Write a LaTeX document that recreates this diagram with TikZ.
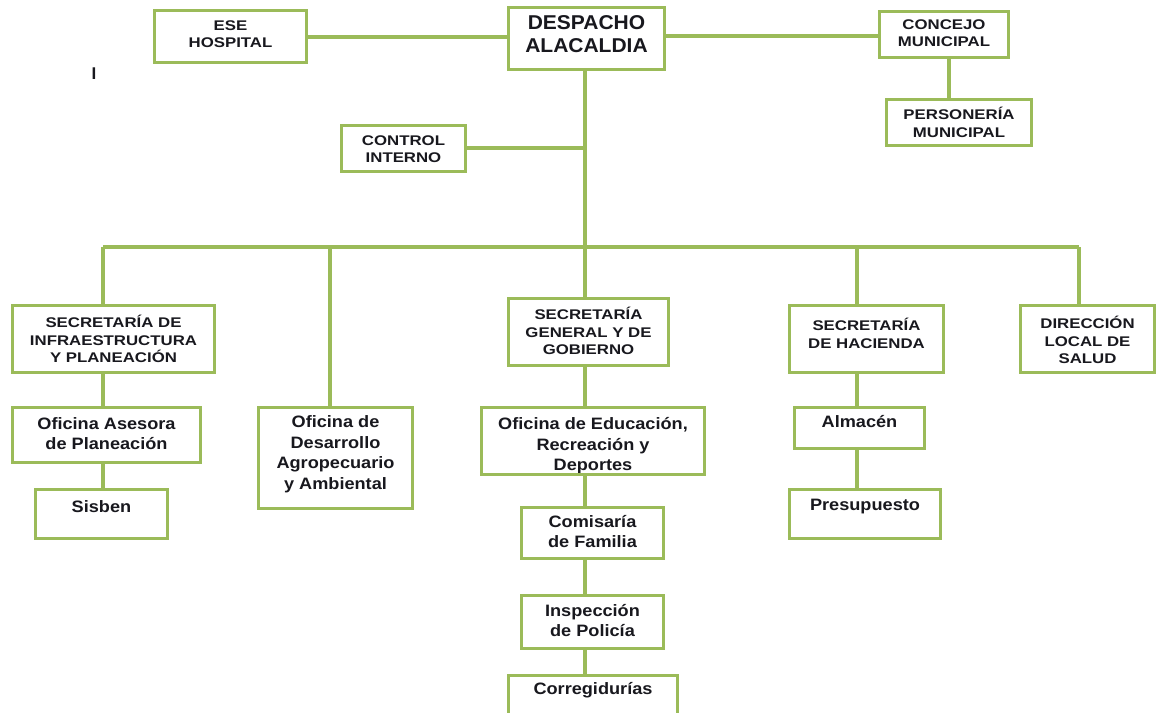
\documentclass[tikz,border=0pt]{standalone}
\usepackage{fontspec}
\setmainfont{Liberation Sans}
\newfontfamily\capsfam[FakeStretch=1.2]{Liberation Sans}
\newfontfamily\lowfam[FakeStretch=1.1]{Liberation Sans}
\newfontfamily\bigfam[FakeStretch=1.05]{Liberation Sans}
\usetikzlibrary{fit}
\definecolor{ogreen}{HTML}{9BBB59}
\definecolor{ink}{HTML}{18181E}
\tikzset{
  box/.style={draw=ogreen, line width=3pt, fill=white, inner sep=0pt},
  conn/.style={draw=ogreen, line width=4.5pt},
  capt/.style={text=ink, font=\capsfam\bfseries\fontsize{14}{17.5}\selectfont, align=center, inner sep=0pt},
  lowt/.style={text=ink, font=\lowfam\bfseries\fontsize{16.5}{20.5}\selectfont, align=center, inner sep=0pt},
  bigt/.style={text=ink, font=\bigfam\bfseries\fontsize{20}{23}\selectfont, align=center, inner sep=0pt},
}
\begin{document}
\begin{tikzpicture}[x=1pt,y=-1pt]
\useasboundingbox (0,0) rectangle (1156,712);
\clip (0,0) rectangle (1156,712);
% bus coordinates
\coordinate (b1) at (103,247);
\coordinate (b2) at (330,247);
\coordinate (b3) at (585,247);
\coordinate (b4) at (857,247);
\coordinate (b5) at (1079,247);
\coordinate (pp) at (949,0);
\path (155,11) coordinate (ese1) (306,62) coordinate (ese2)
      (509,8) coordinate (desp1) (664,69) coordinate (desp2)
      (880,12) coordinate (conc1) (1008,57) coordinate (conc2)
      (887,100) coordinate (pers1) (1031,145) coordinate (pers2)
      (342,126) coordinate (ctrl1) (465,171) coordinate (ctrl2)
      (13,306) coordinate (sinf1) (214,372) coordinate (sinf2)
      (259,408) coordinate (ofde1) (412,508) coordinate (ofde2)
      (509,299) coordinate (sgen1) (668,365) coordinate (sgen2)
      (790,306) coordinate (shac1) (943,372) coordinate (shac2)
      (1021,306) coordinate (dir1) (1154,372) coordinate (dir2)
      (13,408) coordinate (ofas1) (200,462) coordinate (ofas2)
      (36,490) coordinate (sisb1) (167,538) coordinate (sisb2)
      (482,408) coordinate (ofed1) (704,474) coordinate (ofed2)
      (522,508) coordinate (comi1) (663,558) coordinate (comi2)
      (522,596) coordinate (insp1) (663,648) coordinate (insp2)
      (509,676) coordinate (corr1) (677,740) coordinate (corr2)
      (795,408) coordinate (alma1) (924,448) coordinate (alma2)
      (790,490) coordinate (pres1) (940,538) coordinate (pres2);
\node[fit=(ese1)(ese2), inner sep=0pt] (ese) {};
\node[fit=(desp1)(desp2), inner sep=0pt] (desp) {};
\node[fit=(conc1)(conc2), inner sep=0pt] (conc) {};
\node[fit=(pers1)(pers2), inner sep=0pt] (pers) {};
\node[fit=(ctrl1)(ctrl2), inner sep=0pt] (ctrl) {};
\node[fit=(sinf1)(sinf2), inner sep=0pt] (sinf) {};
\node[fit=(ofde1)(ofde2), inner sep=0pt] (ofde) {};
\node[fit=(sgen1)(sgen2), inner sep=0pt] (sgen) {};
\node[fit=(shac1)(shac2), inner sep=0pt] (shac) {};
\node[fit=(dir1)(dir2), inner sep=0pt] (dir) {};
\node[fit=(ofas1)(ofas2), inner sep=0pt] (ofas) {};
\node[fit=(sisb1)(sisb2), inner sep=0pt] (sisb) {};
\node[fit=(ofed1)(ofed2), inner sep=0pt] (ofed) {};
\node[fit=(comi1)(comi2), inner sep=0pt] (comi) {};
\node[fit=(insp1)(insp2), inner sep=0pt] (insp) {};
\node[fit=(corr1)(corr2), inner sep=0pt] (corr) {};
\node[fit=(alma1)(alma2), inner sep=0pt] (alma) {};
\node[fit=(pres1)(pres2), inner sep=0pt] (pres) {};
% connectors
\draw[conn] (ese.east |- 0,37) -- (desp.west |- 0,37);
\draw[conn] (desp.east |- 0,36) -- (conc.west |- 0,36);
\draw[conn] (conc.south -| pp) -- (pers.north -| pp);
\draw[conn] (desp.south -| b3) -- (b3);
\draw[conn] (ctrl.east |- 0,148) -- (b3 |- 0,148);
\draw[conn] (b1) -- (b5);
\draw[conn] (b1) -- (sinf.north -| b1);
\draw[conn] (b2) -- (ofde.north -| b2);
\draw[conn] (b3) -- (sgen.north -| b3);
\draw[conn] (b4) -- (shac.north -| b4);
\draw[conn] (b5) -- (dir.north -| b5);
\draw[conn] (sinf.south -| b1) -- (ofas.north -| b1);
\draw[conn] (ofas.south -| b1) -- (sisb.north -| b1);
\draw[conn] (sgen.south -| b3) -- (ofed.north -| b3);
\draw[conn] (ofed.south -| b3) -- (comi.north -| b3);
\draw[conn] (comi.south -| b3) -- (insp.north -| b3);
\draw[conn] (insp.south -| b3) -- (corr.north -| b3);
\draw[conn] (shac.south -| b4) -- (alma.north -| b4);
\draw[conn] (alma.south -| b4) -- (pres.north -| b4);
% boxes
\foreach \n in {ese,desp,conc,pers,ctrl,sinf,ofde,sgen,shac,dir,ofas,sisb,ofed,comi,insp,corr,alma,pres}
  \draw[box] (\n.north west) rectangle (\n.south east);
% texts
\node[capt] (ese-t) at (230.5,34) {ESE\\HOSPITAL};
\node[bigt] (desp-t) at (586.5,34) {DESPACHO\\ALACALDIA};
\node[capt] (conc-t) at (944,33) {CONCEJO\\MUNICIPAL};
\node[capt] (pers-t) at (959,122.5) {PERSONERÍA\\MUNICIPAL};
\node[capt] (ctrl-t) at (403.5,149) {CONTROL\\INTERNO};
\node[capt] (sinf-t) at (113.5,339) {SECRETARÍA DE\\INFRAESTRUCTURA\\Y PLANEACIÓN};
\node[capt] (sgen-t) at (588.5,331) {SECRETARÍA\\GENERAL Y DE\\GOBIERNO};
\node[capt] (shac-t) at (866.5,333.5) {SECRETARÍA\\DE HACIENDA};
\node[capt] (dir-t) at (1087.5,340) {DIRECCIÓN\\LOCAL DE\\SALUD};
\node[lowt] (ofas-t) at (106.5,433.5) {Oficina Asesora\\de Planeación};
\node[lowt] (ofde-t) at (335.5,454) {Oficina de\\Desarrollo\\Agropecuario\\y Ambiental};
\node[lowt] (sisb-t) at (101.5,507) {Sisben};
\begin{scope}
\clip (483.5,409.5) rectangle (702.5,472);
\node[lowt] (ofed-t) at (593,446) {Oficina de Educación,\\Recreación y\\Deportes};
\end{scope}
\node[lowt] (comi-t) at (592.5,531.5) {Comisaría\\de Familia};
\node[lowt] (insp-t) at (592.5,620.5) {Inspección\\de Policía};
\node[lowt] (corr-t) at (593,690) {Corregidurías};
\node[lowt] (alma-t) at (859.5,422) {Almacén};
\node[lowt] (pres-t) at (865,507) {Presupuesto};
\node[text=ink, font=\bfseries\fontsize{17}{18}\selectfont, inner sep=0pt] (stray) at (94,74) {I};
\end{tikzpicture}
\end{document}
